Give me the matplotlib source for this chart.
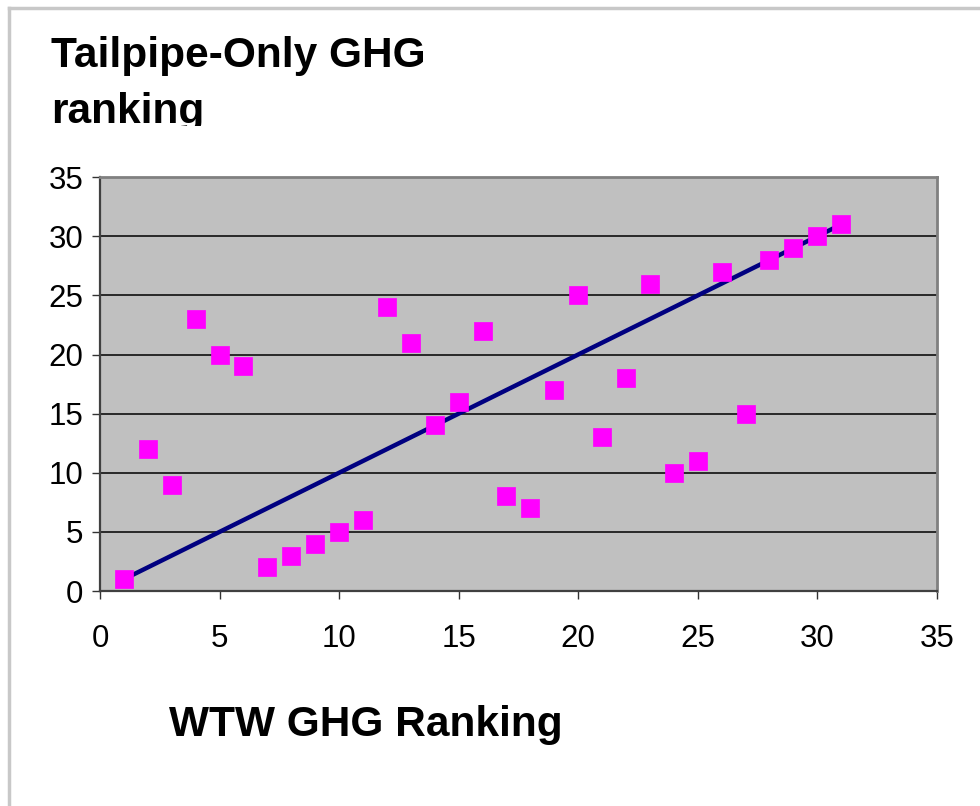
import numpy as np
import matplotlib
matplotlib.use('Agg')
import matplotlib.pyplot as plt
from matplotlib.lines import Line2D
from matplotlib.transforms import Bbox, TransformedBbox

plt.rcParams['font.family'] = ['Liberation Sans', 'DejaVu Sans']

# WTW rank vs tailpipe-only rank
wtw_rank = [1, 2, 3, 4, 5, 6, 7, 8, 9, 10, 11, 12, 13, 14, 15, 16,
            17, 18, 19, 20, 21, 22, 23, 24, 25, 26, 27, 28, 29, 30, 31]
tailpipe_rank = [1, 12, 9, 23, 20, 19, 2, 3, 4, 5, 6, 24, 21, 14, 16, 22,
                 8, 7, 17, 25, 13, 18, 26, 10, 11, 27, 15, 28, 29, 30, 31]
# reference line: equal ranking
line_x = wtw_rank
line_y = wtw_rank

ticks = [0, 5, 10, 15, 20, 25, 30, 35]

fig = plt.figure(figsize=(9.8, 8.06), dpi=100)
ax = fig.add_axes([0.102, 0.2667, 0.854, 0.5135])
ax.set_facecolor('#C0C0C0')

ax.plot(line_x, line_y, color='#000080', lw=3.2, zorder=3, solid_capstyle='round')
ax.scatter(wtw_rank, tailpipe_rank, marker='s', s=150, color='#FF00FF',
           edgecolors='#FF00FF', linewidths=0.5, zorder=4)

ax.set_xlim(0, 35)
ax.set_ylim(0, 35)
ax.set_xticks(ticks)
ax.set_yticks(ticks)
ax.tick_params(labelsize=22.5, length=6, width=1, color='#333333')
ax.tick_params(axis='x', pad=18)
ax.tick_params(axis='y', pad=6)
ax.yaxis.grid(True, color='black', lw=1.1)
ax.set_axisbelow(True)

for side in ['left', 'bottom']:
    ax.spines[side].set_color('#404040')
    ax.spines[side].set_linewidth(1.6)
for side in ['top', 'right']:
    ax.spines[side].set_color('#808080')
    ax.spines[side].set_linewidth(2)

# title, clipped at the bottom like the original
t = fig.text(0.052, 0.955, 'Tailpipe-Only GHG\nranking', fontsize=30.5,
             fontweight='bold', va='top', ha='left', linespacing=1.5)
t.set_clip_box(TransformedBbox(Bbox([[0, 0.8437], [1, 1]]), fig.transFigure))
t.set_clip_on(True)

fig.text(0.373, 0.1, 'WTW GHG Ranking', fontsize=30.5, fontweight='bold',
         ha='center', va='center')

# outer frame (top and left edges only visible)
fig.add_artist(Line2D([0.009, 1], [0.99, 0.99], transform=fig.transFigure,
                      color='#C8C8C8', lw=2.5))
fig.add_artist(Line2D([0.009, 0.009], [0, 0.99], transform=fig.transFigure,
                      color='#C8C8C8', lw=2.5))

fig.savefig('out.png', dpi=100)
